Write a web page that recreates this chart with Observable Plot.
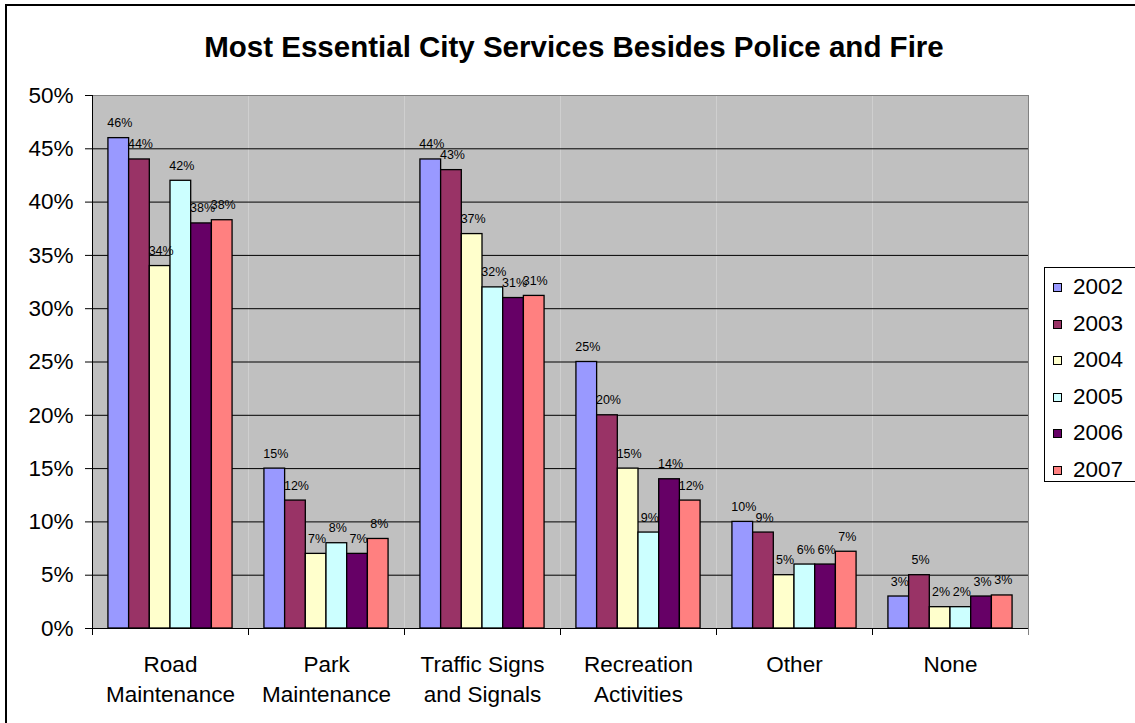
<!DOCTYPE html>
<html>
<head>
<meta charset="utf-8">
<script src="https://cdn.jsdelivr.net/npm/d3@7"></script>
<script src="https://cdn.jsdelivr.net/npm/@observablehq/plot@0.6"></script>
<style>
  html, body { margin: 0; padding: 0; background: #fff; overflow: hidden; }
  #chart { position: relative; width: 1135px; height: 723px; overflow: hidden; background: #fff; font-family: "Liberation Sans", Arial, sans-serif; }
  #border { position: absolute; left: 5px; top: 4px; width: 1160px; height: 760px; border: 2px solid #000; box-sizing: border-box; }
  #title { position: absolute; left: 0; width: 1148px; top: 32px; text-align: center; font-weight: bold; font-size: 29.5px; line-height: 1; white-space: nowrap; color: #000; }
  #plot { position: absolute; left: 0; top: 0; }
  #legend { position: absolute; left: 1044px; top: 267px; width: 120px; height: 215px; border: 1px solid #000; box-sizing: border-box; background: #fff; }
  .item { position: absolute; left: 0; height: 30px; }
  .sw { position: absolute; left: 8px; width: 7px; height: 7px; border: 1px solid #000; }
  .lab { position: absolute; left: 28px; font-size: 22.5px; line-height: 1; color: #000; }
</style>
</head>
<body>
<div id="chart">
  <div id="border"></div>
  <div id="title">Most Essential City Services Besides Police and Fire</div>
  <div id="plot"></div>
  <div id="legend"></div>
</div>
<script>
// ---- data ----
const categories = ["Road Maintenance", "Park Maintenance", "Traffic Signs and Signals", "Recreation Activities", "Other", "None"];
const categoryLabels = ["Road\nMaintenance", "Park\nMaintenance", "Traffic Signs\nand Signals", "Recreation\nActivities", "Other", "None"];
const years = ["2002", "2003", "2004", "2005", "2006", "2007"];
const yearColors = ["#9999FF", "#993366", "#FFFFCC", "#CCFFFF", "#660066", "#FF8080"];
const v2002 = [46, 15, 44, 25, 10, 3];
const v2003 = [44, 12, 43, 20, 9, 5];
const v2004 = [34, 7, 37, 15, 5, 2];
const v2005 = [42, 8, 32, 9, 6, 2];
const v2006 = [38, 7, 31, 14, 6, 3];
const v2007 = [38.3, 8.4, 31.2, 12, 7.2, 3.1];
const yTicks = [0, 5, 10, 15, 20, 25, 30, 35, 40, 45, 50];

const series = [v2002, v2003, v2004, v2005, v2006, v2007];
const rows = years.flatMap((yr, j) => categories.map((c, i) => ({category: c, year: yr, value: series[j][i]})));

// ---- layout ----
const W = 1135, H = 723, mL = 92, mR = 107, mT = 95, mB = 95;
const padOuter = 0.77;
const facetW = (W - mL - mR) / categories.length;
const step = facetW / (years.length + 2 * padOuter);
const edgeOff = padOuter * step + step / 2;
const tickLen = 7 * 50 / (H - mT - mB);

const chart = Plot.plot({
  width: W, height: H,
  marginLeft: mL, marginRight: mR, marginTop: mT, marginBottom: mB,
  style: {fontFamily: "'Liberation Sans', Arial, sans-serif", color: "#000", background: "transparent", overflow: "visible"},
  fx: {domain: categories, padding: 0, round: false, label: null},
  x: {domain: years, paddingInner: 0, paddingOuter: padOuter, round: false, axis: null, label: null},
  y: {domain: [0, 50], label: null},
  color: {domain: years, range: yearColors},
  marks: [
    Plot.frame({fill: "#C0C0C0", stroke: "none"}),
    Plot.ruleY(yTicks.filter(t => t > 0 && t < 50), {stroke: "#000", strokeWidth: 1}),
    Plot.ruleY([50], {stroke: "#808080", strokeWidth: 1}),
    Plot.barY(rows, {fx: "category", x: "year", y: "value", fill: "year", stroke: "#000", strokeWidth: 1.3}),
    Plot.text(rows, {fx: "category", x: "year", y: "value", text: d => Math.round(d.value) + "%", lineAnchor: "bottom", dy: -11, dx: 1, fontSize: 12.5, fill: "#000"}),
    Plot.ruleY([0], {stroke: "#000", strokeWidth: 1}),
    Plot.ruleX(categories.slice(1), {fx: d => d, x: () => years[0], dx: -edgeOff, y1: 0, y2: -tickLen, stroke: "#000"}),
    Plot.ruleX(categories.slice(0, 1), {fx: d => d, x: () => years[0], dx: -edgeOff, y1: -tickLen, y2: 50, stroke: "#000"}),
    Plot.ruleX(categories.slice(-1), {fx: d => d, x: () => years[years.length - 1], dx: edgeOff, y1: -tickLen, y2: 50, stroke: "#808080"}),
    Plot.axisY(yTicks, {tickSize: 7, tickPadding: 12, tickFormat: d => d + "%", fontSize: 22.5, label: null, stroke: "#000"}),
    Plot.axisFx({anchor: "bottom", tickSize: 0, tickPadding: 23, tickFormat: d => categoryLabels[categories.indexOf(d)], fontSize: 22.5, lineHeight: 1.3, label: null})
  ]
});
document.getElementById("plot").appendChild(chart);

// ---- legend ----
const legend = d3.select("#legend");
years.forEach((yr, i) => {
  const cy = 286 - 267 + i * 36.6;
  const item = legend.append("div").attr("class", "item").style("top", "0px");
  item.append("div").attr("class", "sw").style("top", (cy - 4) + "px").style("background", yearColors[i]);
  item.append("div").attr("class", "lab").style("top", (cy - 11) + "px").text(yr);
});
</script>
</body>
</html>
